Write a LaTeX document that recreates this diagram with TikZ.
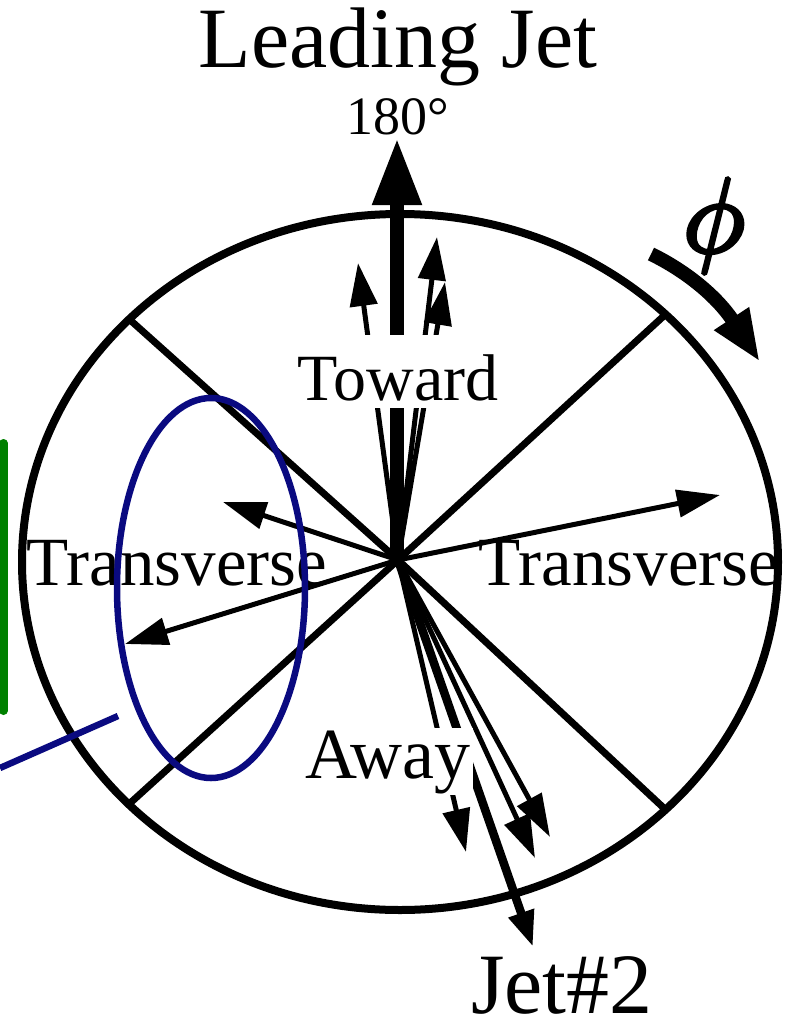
\RequirePackage{fix-cm}
\documentclass[tikz,border=0pt]{standalone}
\usepackage{fontspec}
\setmainfont{Liberation Serif}
\usetikzlibrary{arrows.meta}
\definecolor{navyb}{RGB}{10,10,128}
\definecolor{greenb}{RGB}{0,128,0}
\begin{document}
\begin{tikzpicture}[x=1pt,y=-1pt,
  thinarr/.style={line width=5pt,-{Triangle[length=43pt,width=27pt]}},
  jetarr/.style={line width=14pt,-{Triangle[length=67pt,width=46pt]}},
  jettwo/.style={line width=8.5pt,-{Triangle[length=36pt,width=25pt]}},
  divider/.style={line width=7pt},
  lbl/.style={anchor=base,inner sep=0pt,font=\fontsize{66}{66}\selectfont},
  big/.style={anchor=base,inner sep=0pt,font=\fontsize{86}{86}\selectfont},
  mask/.style={fill=white}]
\useasboundingbox (0,0) rectangle (795,1030);

\coordinate (O) at (398,560);
\coordinate (Ot) at (397,560);

% dividers
\draw[divider] (O) -- (129,319);
\draw[divider] (O) -- (667,313);
\draw[divider] (O) -- (128,805);
\draw[divider] (O) -- (667,811);

% outer circle
\draw[line width=8pt] (400,562) ellipse [x radius=378pt, y radius=348pt];

% toward region
\coordinate (t1) at (358,263);
\coordinate (t2) at (437,237);
\coordinate (t3) at (445,282);
\draw[thinarr] (O) -- (t1);
\draw[thinarr] (O) -- (t2);
\draw[thinarr] (O) -- (t3);
\draw[jetarr] (Ot) -- (397,138) coordinate (lj);

% away region
\coordinate (a1) at (466,852);
\coordinate (a2) at (535,858);
\coordinate (a3) at (550,837);
\coordinate (j2) at (533,947);
\draw[thinarr] (O) -- (a1);
\draw[thinarr] (O) -- (a2);
\draw[thinarr] (O) -- (a3);
\draw[jettwo] (O) -- (j2);

% transverse
\coordinate (r1) at (720,495);
\coordinate (l1) at (223,502);
\coordinate (l2) at (125,644);
\draw[thinarr] (O) -- (r1);
\draw[thinarr] (O) -- (l1);
\draw[thinarr] (O) -- (l2);

% labels
\node[big] (lead) at (398,68) {Leading Jet};
\node[anchor=base,inner sep=0pt,font=\fontsize{54}{54}\selectfont] (deg) at (398,135) {180°};
\node[lbl,mask,text height=65pt,text depth=8pt] (toward) at (398,400) {Toward};
\node[lbl,mask,text height=50pt,text depth=17pt,inner xsep=2pt,font=\fontsize{72}{72}\selectfont] (away) at (388,778) {Away};
\node[lbl,font=\fontsize{69}{69}\selectfont] (transL) at (177,585) {Transverse};
\node[lbl,font=\fontsize{69}{69}\selectfont] (transR) at (629,585) {Transverse};
\node[big] (jet2) at (562,1013) {Jet\#2};

% phi arrow
\node[anchor=base,inner sep=0pt] (phi) at (714,252) {\special{pdf:literal direct 2 Tr 4 w}\fontsize{106}{106}\selectfont$\phi$\special{pdf:literal direct 0 Tr}};
\coordinate (ps) at (651,254);
\coordinate (pe) at (760,362);
\draw[line width=14pt,-{Triangle[length=52pt,width=38pt]}] (ps) .. controls (688,272) and (718,298) .. (pe);

% highlight
\draw[navyb,line width=6.5pt] (211,588) ellipse [x radius=94pt, y radius=190pt];
\coordinate (bl0) at (0,768);
\coordinate (bl1) at (118,716);
\draw[navyb,line width=6.5pt] (bl0) -- (bl1);
\coordinate (g0) at (3.5,443);
\coordinate (g1) at (3.5,711);
\draw[greenb,line width=8pt,line cap=round] (g0) -- (g1);
\end{tikzpicture}
\end{document}
